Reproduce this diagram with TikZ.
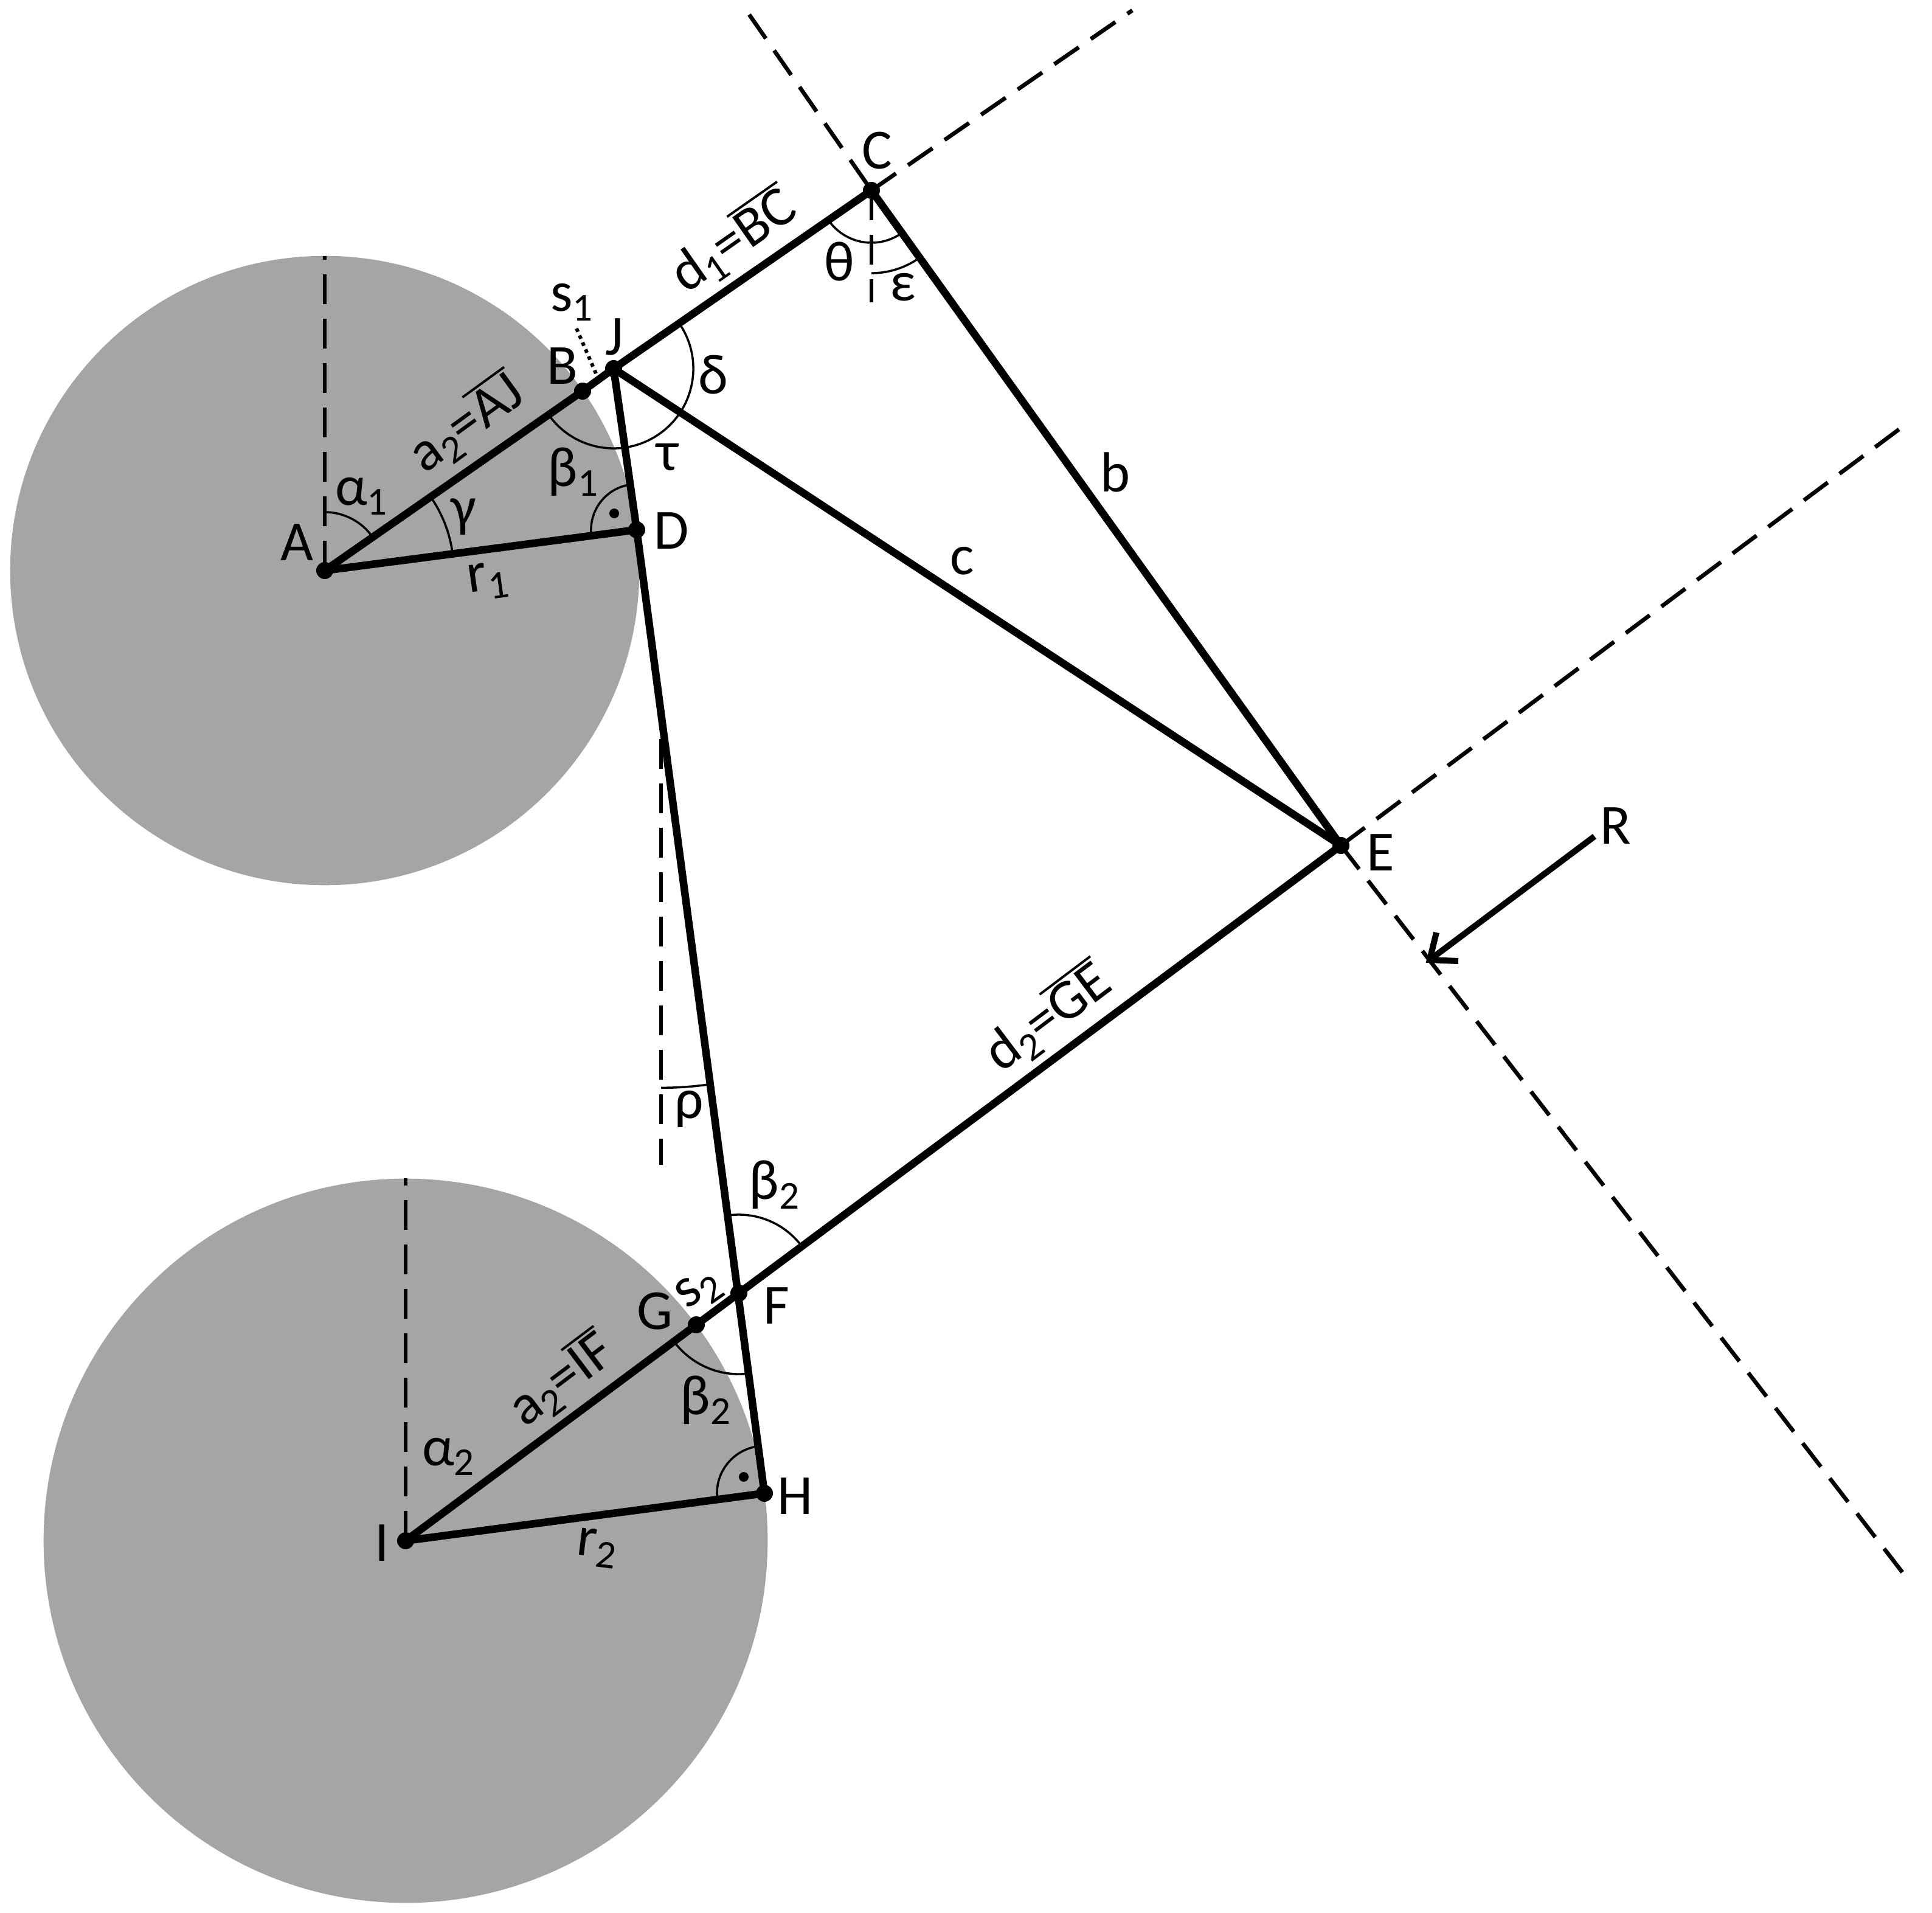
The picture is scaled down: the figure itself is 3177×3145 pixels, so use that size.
\documentclass[tikz,border=0pt]{standalone}
\usepackage{fontspec}
\setmainfont{Carlito}
\usetikzlibrary{calc}
\definecolor{disc}{HTML}{A5A5A5}
\newcommand{\lowsub}[1]{\raisebox{-0.17em}{\fontsize{18.5}{20}\selectfont #1}}
\newcommand{\ovl}[1]{\leavevmode\vbox{\hrule height 1.1pt\kern 1.1pt\hbox{\vrule height 0.644em width 0pt\smash{#1}}}}
\newcommand{\angarc}[4]{\draw[thinarc] (#1) ++(#3:#2) arc[start angle=#3,end angle=#4,radius=#2];}
\tikzset{
  main/.style={line width=3.55pt,line cap=round,line join=round},
  dashline/.style={line width=1.9pt,dash pattern=on 0.49cm off 0.24cm},
  thinarc/.style={line width=1pt},
  pt/.style={circle,fill=black,inner sep=0pt,minimum size=0.28cm},
  lbl/.style={inner sep=0pt,font=\fontsize{26.5}{30}\selectfont},
}
\begin{document}
\begin{tikzpicture}[x=0.01cm,y=-0.01cm]
\useasboundingbox (0,0) rectangle (3177,3145);
\coordinate (pA) at (534,938);
\coordinate (pI) at (667,2533);
\coordinate (pB) at (958,643);
\coordinate (pJ) at (1009,606);
\coordinate (pC) at (1433,313);
\coordinate (pD) at (1047,871);
\coordinate (pE) at (2205,1390);
\coordinate (pF) at (1215,2126);
\coordinate (pG) at (1145,2178);
\coordinate (pH) at (1257,2455);
\coordinate (pR) at (2622,1375);
\coordinate (pT) at (2351,1578);
\coordinate (vA) at (534,421);
\coordinate (vI) at (667,1937);
\coordinate (vCe) at (1433,497);
\coordinate (vRt) at (1087,1215);
\coordinate (vRb) at (1087,1915);
\coordinate (eCu) at (1862,17);
\coordinate (eCl) at (1232,24);
\coordinate (eEu) at (3140,693);
\coordinate (eEd) at (3140,2600);
\coordinate (sa) at (948,540);
\coordinate (sb) at (980,614);
\coordinate (ba) at (2362,1533);
\coordinate (bb) at (2398,1580);
\fill[disc] (pA) circle[radius=5.17cm];
\fill[disc] (pI) circle[radius=5.95cm];
% dashed construction lines
\draw[dashline] (pA) -- (vA);
\draw[dashline] (pI) -- (vI);
\draw[dashline] (pC) -- (vCe);
\draw[dashline] (vRt) -- (vRb);
\draw[dashline] (pC) -- (eCu);
\draw[dashline,dash phase=0.61cm] (pC) -- (eCl);
\draw[dashline] (pE) -- (eEu);
\draw[dashline] (pE) -- (eEd);
\draw[line width=1.7pt,dash pattern=on 1.7pt off 1.85pt] (sa) -- (sb);
% angle arcs
\angarc{pA}{0.96cm}{90}{35}
\angarc{pA}{2.12cm}{35}{7.4}
\angarc{pJ}{1.31cm}{214.8}{394.8}
\angarc{pD}{0.75cm}{98}{187.4}
\angarc{pH}{0.78cm}{97.3}{187.5}
\angarc{pF}{1.33cm}{216.6}{277.3}
\angarc{pF}{1.29cm}{97.3}{36.6}
\angarc{pC}{0.86cm}{214.7}{305.6}
\angarc{pC}{1.36cm}{270}{305.6}
\angarc{vRt}{5.73cm}{270}{277.6}
% thick lines
\draw[main] (pA) -- (pB) -- (pJ) -- (pC);
\draw[main] (pJ) -- (pD) -- (pH);
\draw[main] (pA) -- (pD);
\draw[main] (pI) -- (pH);
\draw[main] (pI) -- (pG) -- (pF) -- (pE);
\draw[main] (pJ) -- (pE);
\draw[main] (pC) -- (pE);
\draw[line width=2.85pt] (pR) -- (pT);
\draw[line width=2.85pt,line join=miter] (ba) -- (pT) -- (bb);
% points
\foreach \p in {pA,pB,pJ,pC,pD,pE,pF,pG,pH,pI} \node[pt] at (\p) {};
\fill (1010,844) circle[radius=0.08cm];
\fill (1223,2428) circle[radius=0.08cm];
% labels
\node[lbl] (lA) at (488,892) {A};
\node[lbl] (lB) at (925,602) {B};
\node[lbl] (lJ) at (1010,554) {J};
\node[lbl] (lC) at (1442,248) {C};
\node[lbl] (lD) at (1104,873) {D};
\node[lbl] (lE) at (2270,1402) {E};
\node[lbl] (lF) at (1277,2147) {F};
\node[lbl] (lG) at (1077,2156) {G};
\node[lbl] (lH) at (1308,2460) {H};
\node[lbl] (lI) at (628,2537) {I};
\node[lbl] (lR) at (2657,1358) {R};
\node[lbl] (lb) at (1834,776) {b};
\node[lbl] (lc) at (1582,922) {c};
\node[lbl] (ls1) at (940,497) {s\lowsub{1}};
\node[lbl,rotate=35] (ls2) at (1150,2122) {s\lowsub{2}};
\node[lbl,rotate=8] (lr1) at (802,955) {r\lowsub{1}};
\node[lbl,rotate=-7] (lr2) at (981,2545) {r\lowsub{2}};
\node[lbl] (la1) at (594,816) {α\lowsub{1}};
\node[lbl] (la2) at (737,2395) {α\lowsub{2}};
\node[lbl] (lgam) at (762,850) {γ};
\node[lbl] (lb1) at (942,776) {β\lowsub{1}};
\node[lbl] (lb2u) at (1273,1948) {β\lowsub{2}};
\node[lbl] (lb2d) at (1160,2302) {β\lowsub{2}};
\node[lbl] (ltau) at (1098,752) {τ};
\node[lbl] (ldel) at (1173,616) {δ};
\node[lbl] (lth) at (1380,430) {θ};
\node[lbl] (leps) at (1485,472) {ε};
\node[lbl] (lrho) at (1133,1823) {ρ};
\node[lbl,rotate=36] (laj) at (768,697) {a\lowsub{2}=\ovl{AJ}};
\node[lbl,rotate=35] (lbc) at (1207,397) {d\lowsub{1}=\ovl{BC}};
\node[lbl,rotate=37] (lif) at (924,2269) {a\lowsub{2}=\ovl{IF}};
\node[lbl,rotate=37] (lge) at (1724,1674) {d\lowsub{2}=\ovl{GE}};
\end{tikzpicture}
\end{document}
